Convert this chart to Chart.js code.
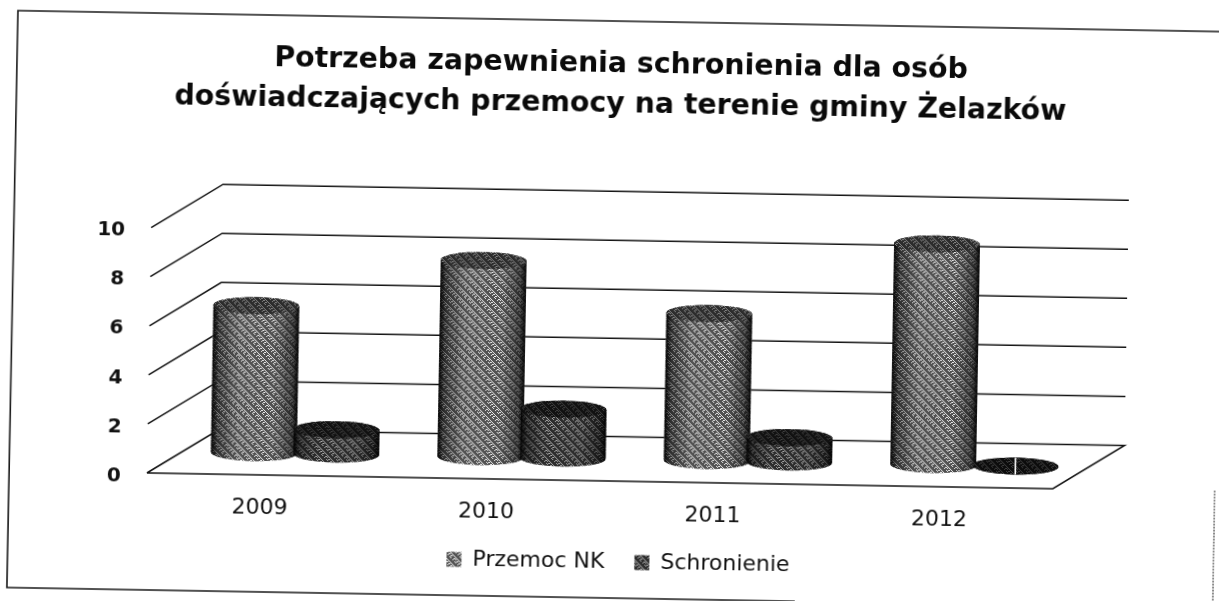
<!DOCTYPE html>
<html lang="pl"><head><meta charset="utf-8">
<style>html,body{margin:0;padding:0;background:#fff;overflow:hidden;width:1219px;height:601px}
canvas{position:absolute;left:0;top:0;transform:rotate(1deg);transform-origin:610px 300px}</style>
<script src="https://cdn.jsdelivr.net/npm/chart.js@4"></script></head><body>
<canvas id="c" width="1219" height="601" style="width:1219px;height:601px"></canvas>
<script>
const titleLines = ['Potrzeba zapewnienia schronienia dla osób','doświadczających przemocy na terenie gminy Żelazków'];
const categories = ['2009','2010','2011','2012'];
const seriesNames = ['Przemoc NK','Schronienie'];
const przemocNK = [6,8,6,9];
const schronienie = [1,2,1,0];
const yTicks = [0,2,4,6,8,10];

const DEPTH_X=71, DEPTH_Y=-44.5, BAR_DX=34.5, BAR_DY=-22, RY=8.5;
function tile(base,speck,alpha){
  const t=document.createElement('canvas');t.width=t.height=10;
  const g=t.getContext('2d');g.fillStyle=base;g.fillRect(0,0,10,10);
  g.fillStyle=speck;g.globalAlpha=alpha;
  for(let y=0;y<10;y++)for(let x=0;x<10;x++){
    const d=(x-y+20)%5;
    if(d===0&&(x+y)%4!==3)g.fillRect(x,y,1,1);
    if(d===2&&(x+y)%4===1)g.fillRect(x,y,1,1);
    if(d===3&&(x+y)%4===2)g.fillRect(x,y,1,1);
  }
  return document.createElement('canvas').getContext('2d').createPattern(t,'repeat');
}
const looks=[
 {body:tile('#555555','#ffffff',.95),cap:tile('#2c2c2c','#ffffff',.42),edge:.95},
 {body:tile('#2e2e2e','#ffffff',.62),cap:tile('#111111','#ffffff',.2),edge:.97}
];
function cylinder(ctx,cx,top,bottom,w,look){
  const rx=w/2;
  if(bottom-top<1){
    ctx.fillStyle='#0c0c0c';ctx.beginPath();ctx.ellipse(cx,bottom,rx,RY,0,0,Math.PI*2);ctx.fill();
    ctx.fillStyle=tile('#0c0c0c','#ffffff',.22);ctx.fill();
    ctx.fillStyle='#fff';ctx.fillRect(cx-1,bottom-RY,1.6,RY*2);
    return;
  }
  ctx.save();ctx.beginPath();
  ctx.moveTo(cx-rx,top);ctx.lineTo(cx-rx,bottom);
  ctx.ellipse(cx,bottom,rx,RY,0,Math.PI,0,true);
  ctx.lineTo(cx+rx,top);ctx.ellipse(cx,top,rx,RY,0,0,Math.PI,true);ctx.closePath();
  ctx.fillStyle=look.body;ctx.fill();
  const g=ctx.createLinearGradient(cx-rx,0,cx+rx,0);
  g.addColorStop(0,`rgba(0,0,0,${look.edge})`);g.addColorStop(.07,'rgba(0,0,0,.45)');
  g.addColorStop(.3,'rgba(0,0,0,.03)');g.addColorStop(.72,'rgba(0,0,0,.05)');
  g.addColorStop(.93,'rgba(0,0,0,.5)');g.addColorStop(1,`rgba(0,0,0,${look.edge})`);
  ctx.fillStyle=g;ctx.fill();
  ctx.restore();
  ctx.fillStyle=look.cap;ctx.beginPath();ctx.ellipse(cx,top,rx,RY,0,0,Math.PI*2);ctx.fill();
}
const scene={
  id:'scene',
  afterLayout(chart){const l=chart.legend;l.left+=5.6;l.right+=5.6;l.top-=18;l.bottom-=18;},
  beforeDraw(chart){
    const c=chart.ctx;c.save();c.fillStyle='#fff';c.fillRect(0,0,chart.width,chart.height);
    c.strokeStyle='#1a1a1a';c.lineWidth=1.6;
    c.beginPath();c.moveTo(1219,21);c.lineTo(13,21);c.lineTo(12,598);c.lineTo(800,598);c.stroke();
    c.lineWidth=1;c.setLineDash([2,1]);c.beginPath();c.moveTo(1218,480);c.lineTo(1218,601);c.stroke();
    c.restore();
  },
  beforeDatasetsDraw(chart){
    const c=chart.ctx,y=chart.scales.y,a=chart.chartArea;
    c.save();c.strokeStyle='#141414';c.lineWidth=1.5;c.lineJoin='miter';
    yTicks.forEach(v=>{
      const py=y.getPixelForValue(v);
      c.beginPath();c.moveTo(a.left,py);c.lineTo(a.left+DEPTH_X,py+DEPTH_Y);
      c.lineTo(a.right+DEPTH_X,py+DEPTH_Y);
      if(v===0){c.lineTo(a.right,py);c.lineTo(a.left,py);}
      c.stroke();
    });
    c.restore();
    chart.data.datasets.forEach((d,i)=>{
      chart.getDatasetMeta(i).data.forEach(el=>{
        cylinder(c,el.x+BAR_DX,el.y+BAR_DY,el.base+BAR_DY,el.width*1.04,looks[i]);
      });
    });
  },
  beforeDatasetDraw(){return false;}
};
new Chart(document.getElementById('c'),{
  type:'bar',
  data:{labels:categories,datasets:[
    {label:seriesNames[0],data:przemocNK,backgroundColor:looks[0].body,borderWidth:0},
    {label:seriesNames[1],data:schronienie,backgroundColor:looks[1].body,borderWidth:0}
  ]},
  options:{
    responsive:false,animation:false,
    categoryPercentage:.728,barPercentage:1,
    layout:{padding:{left:15,right:0,top:0,bottom:0}},
    plugins:{
      tooltip:{enabled:false},
      title:{display:true,text:titleLines,color:'#0a0a0a',
        font:{family:'"DejaVu Sans"',size:28.4,weight:'bold',lineHeight:1.42},
        padding:{top:44,bottom:111}},
      legend:{position:'bottom',labels:{color:'#111',boxWidth:15,boxHeight:15,padding:30,
        font:{family:'"DejaVu Sans"',size:22}}}
    },
    scales:{
      x:{grid:{display:false},border:{display:false},
        ticks:{color:'#111',padding:12,font:{family:'"DejaVu Sans"',size:22}},
        afterFit(s){s.height=58;}},
      y:{min:0,max:10,grid:{display:false},border:{display:false},
        afterBuildTicks(s){s.ticks=yTicks.map(v=>({value:v}));},
        ticks:{color:'#111',padding:18,labelOffset:3.5,font:{family:'"DejaVu Sans"',size:20,weight:'bold'}},
        afterFit(s){s.width=135;}},
      yr:{position:'right',display:true,min:0,max:10,grid:{display:false},border:{display:false},
        ticks:{display:false},afterFit(s){s.width=163;}}
    }
  },
  plugins:[scene]
});
</script></body></html>
